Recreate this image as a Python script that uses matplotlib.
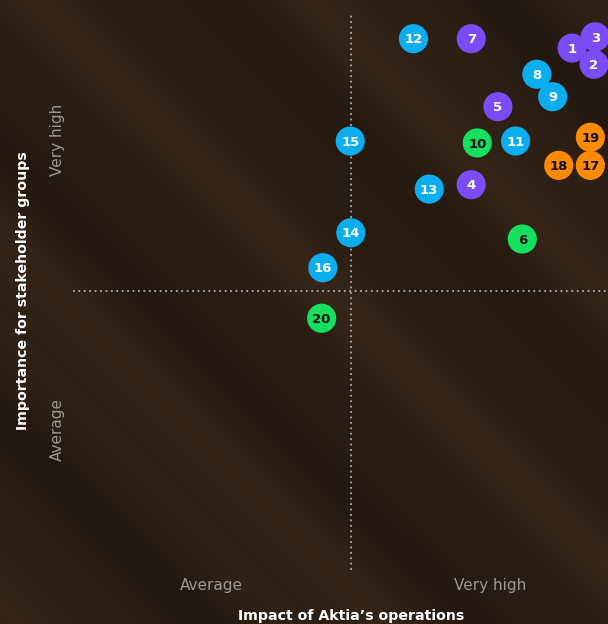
import numpy as np
import matplotlib
matplotlib.use('Agg')
import matplotlib.pyplot as plt

# ── Data (score scale 0–10 on both axes) ───────────────────────────────────────
ids = [1, 2, 3, 4, 5, 6, 7, 8, 9, 10, 11, 12, 13, 14, 15, 16, 17, 18, 19, 20]
impact = [9.41, 9.77, 9.79, 7.75, 8.19, 8.59, 7.75, 8.83, 9.09, 7.85,
          8.48, 6.80, 7.06, 5.77, 5.76, 5.31, 9.71, 9.19, 9.71, 5.29]
importance = [9.23, 8.97, 9.41, 7.04, 8.29, 6.17, 9.38, 8.81, 8.45, 7.71,
              7.74, 9.38, 6.97, 6.27, 7.74, 5.71, 7.35, 7.35, 7.80, 4.90]
group = ['purple', 'purple', 'purple', 'purple', 'purple', 'green', 'purple',
         'blue', 'blue', 'green', 'blue', 'blue', 'blue', 'blue', 'blue',
         'blue', 'orange', 'orange', 'orange', 'green']

x_mid, y_mid = 5.77, 5.34

COLORS = {'purple': '#7B4CF5', 'blue': '#0AAEEF', 'green': '#14E05E', 'orange': '#FF8A00'}
TEXT_COL = {'purple': 'white', 'blue': 'white', 'green': '#111111', 'orange': '#111111'}

# ── Figure ─────────────────────────────────────────────────────────────────────
fig = plt.figure(figsize=(6.08, 6.24), dpi=100)
ax = fig.add_axes([0, 0, 1, 1])
ax.set_xlim(0, 10)
ax.set_ylim(0, 10)
ax.axis('off')

# textured brown background with soft diagonal bands
gx, gy = np.meshgrid(np.linspace(0, 10, 300), np.linspace(0, 10, 300))
d = gx + gy * 1.03
tex = 0.5 + 0.3 * np.sin(d * 1.25 + 0.6) + 0.12 * np.sin(d * 2.9 + 1.3)
dark = np.array([0x21, 0x16, 0x0e]) / 255
light = np.array([0x38, 0x27, 0x1a]) / 255
img = dark + (light - dark) * tex[..., None]
ax.imshow(img, extent=[0, 10, 0, 10], origin='lower', aspect='auto',
          interpolation='bicubic', zorder=0)

# quadrant lines
ax.plot([x_mid, x_mid], [0.87, 9.81], color='#b0aca6', lw=1.3,
        linestyle=(0, (1, 2.0)), zorder=1)
ax.plot([1.2, 10], [y_mid, y_mid], color='#b0aca6', lw=1.3,
        linestyle=(0, (1, 2.0)), zorder=1)

# bubbles
for i, x, y, g in zip(ids, impact, importance, group):
    ax.scatter(x, y, s=440, color=COLORS[g], edgecolors='none', zorder=3)
    ax.text(x, y - 0.02, str(i), ha='center', va='center', fontsize=9.5,
            fontweight='bold', color=TEXT_COL[g], zorder=4)

# axis tick labels
GREY = '#9c9890'
ax.text(3.47, 0.61, 'Average', ha='center', va='center', fontsize=11, color=GREY)
ax.text(8.06, 0.61, 'Very high', ha='center', va='center', fontsize=11, color=GREY)
ax.text(0.94, 3.11, 'Average', ha='center', va='center', fontsize=11,
        color=GREY, rotation=90)
ax.text(0.94, 7.76, 'Very high', ha='center', va='center', fontsize=11,
        color=GREY, rotation=90)

# axis titles
ax.text(5.77, 0.13, 'Impact of Aktia\u2019s operations', ha='center', va='center',
        fontsize=10.2, fontweight='bold', color='white')
ax.text(0.38, 5.35, 'Importance for stakeholder groups', ha='center', va='center',
        fontsize=10.2, fontweight='bold', color='white', rotation=90)

plt.savefig('out.png', dpi=100)
plt.close()
